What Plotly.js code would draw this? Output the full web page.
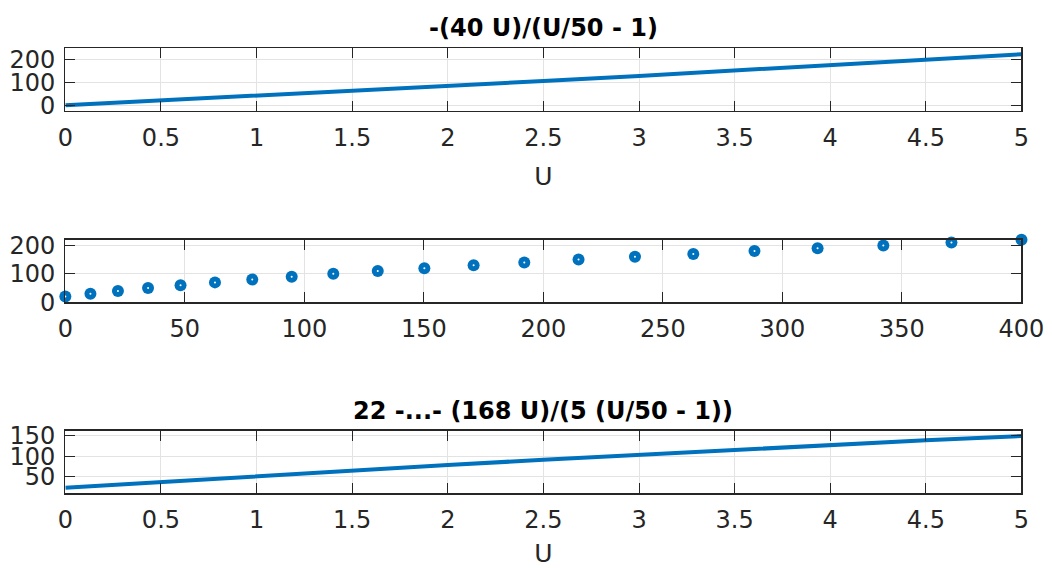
<!DOCTYPE html>
<html>
<head>
<meta charset="utf-8">
<script src="https://cdn.plot.ly/plotly-3.0.1.min.js"></script>
<style>html,body{margin:0;padding:0;background:#fff;}#chart{width:1052px;height:568px;}</style>
</head>
<body>
<div id="chart"></div>
<script>
// Top panel: -(40 U)/(U/50 - 1)
const uTop = [0, 0.5, 1, 1.5, 2, 2.5, 3, 3.5, 4, 4.5, 5];
const yTop = [0, 20.2, 40.8, 61.9, 83.3, 105.3, 127.7, 150.5, 173.9, 197.8, 222.2];
// Middle panel: scatter points
const xMid = [0, 10.5, 22, 34.6, 48.2, 62.6, 78.2, 94.7, 112.1, 130.7, 150.2, 170.8, 192, 214.7, 238.3, 262.7, 288.3, 314.7, 342.2, 370.7, 400];
const yMid = [20, 30, 40, 50, 60, 70, 80, 90, 100, 110, 120, 130, 140, 150, 160, 170, 180, 190, 200, 210, 220];
// Bottom panel: 22 -...- (168 U)/(5 (U/50 - 1))
const uBot = [0, 0.5, 1, 1.5, 2, 2.5, 3, 3.5, 4, 4.5, 5];
const yBot = [22.5, 37, 51, 65, 78.5, 91.5, 104, 116.5, 128, 139.5, 150];
// Labels
const titleTop = "-(40 U)/(U/50 - 1)";
const titleBot = "22 -...- (168 U)/(5 (U/50 - 1))";
const xLabel = "U";
const xTicksU = [0, 0.5, 1, 1.5, 2, 2.5, 3, 3.5, 4, 4.5, 5];
const xTicksMid = [0, 50, 100, 150, 200, 250, 300, 350, 400];
const yTicksTop = [0, 100, 200];
const yTicksMid = [0, 100, 200];
const yTicksBot = [50, 100, 150];

const blue = '#0072BD';
const axisCol = '#262626';
const fam = 'DejaVu Sans, Liberation Sans, Arial, sans-serif';
const tickFont = {family: fam, size: 24, color: axisCol};

function xax(anchor, vals, range, title) {
  const a = {
    domain: [0.0621, 0.971], anchor: anchor, range: range,
    tickmode: 'array', tickvals: vals, ticktext: vals.map(String),
    ticks: 'inside', ticklen: 10, tickwidth: 1, tickcolor: axisCol,
    showline: true, linecolor: axisCol, linewidth: 1.3, mirror: 'ticks',
    showgrid: true, gridcolor: '#e3e3e3', gridwidth: 1, zeroline: false,
    tickfont: tickFont, ticklabelstandoff: 5, automargin: false, fixedrange: true
  };
  if (title) a.title = {text: title, font: {family: fam, size: 25, color: axisCol}, standoff: 16};
  return a;
}
function yax(domain, anchor, vals, range) {
  return {
    domain: domain, anchor: anchor, range: range,
    tickmode: 'array', tickvals: vals, ticktext: vals.map(String),
    ticks: 'inside', ticklen: 10, tickwidth: 1, tickcolor: axisCol,
    showline: true, linecolor: axisCol, linewidth: 1.3, mirror: 'ticks',
    showgrid: true, gridcolor: '#e3e3e3', gridwidth: 1, zeroline: false,
    tickfont: tickFont, ticklabelstandoff: 4, automargin: false, fixedrange: true
  };
}

const data = [
  {x: uTop, y: yTop, xaxis: 'x', yaxis: 'y', mode: 'lines', line: {color: blue, width: 4}, hoverinfo: 'skip'},
  {x: xMid, y: yMid, xaxis: 'x2', yaxis: 'y2', mode: 'markers', marker: {color: blue, size: 12}, cliponaxis: false, hoverinfo: 'skip'},
  {x: xMid, y: yMid, xaxis: 'x2', yaxis: 'y2', mode: 'markers', marker: {color: '#ffffff', size: 2}, cliponaxis: false, hoverinfo: 'skip'},
  {x: uBot, y: yBot, xaxis: 'x3', yaxis: 'y3', mode: 'lines', line: {color: blue, width: 4}, hoverinfo: 'skip'}
];

const layout = {
  width: 1052, height: 568,
  margin: {l: 0, r: 0, t: 0, b: 0},
  paper_bgcolor: '#ffffff', plot_bgcolor: '#ffffff',
  showlegend: false,
  xaxis: xax('y', xTicksU, [0, 5], xLabel),
  yaxis: yax([0.8046, 0.915], 'x', yTicksTop, [-25, 248]),
  xaxis2: xax('y2', xTicksMid, [0, 400], null),
  yaxis2: yax([0.4678, 0.578], 'x2', yTicksMid, [0, 220]),
  xaxis3: xax('y3', xTicksU, [0, 5], xLabel),
  yaxis3: yax([0.1315, 0.2417], 'x3', yTicksBot, [9, 163]),
  annotations: [
    {text: '<b>' + titleTop + '</b>', xref: 'paper', yref: 'paper', x: 0.5165, y: 0.922, xanchor: 'center', yanchor: 'bottom', showarrow: false,
     font: {family: fam, size: 24, color: '#000000'}},
    {text: '<b>' + titleBot + '</b>', xref: 'paper', yref: 'paper', x: 0.5165, y: 0.2487, xanchor: 'center', yanchor: 'bottom', showarrow: false,
     font: {family: fam, size: 24, color: '#000000'}}
  ]
};

Plotly.newPlot('chart', data, layout, {staticPlot: true, displayModeBar: false});
</script>
</body>
</html>
